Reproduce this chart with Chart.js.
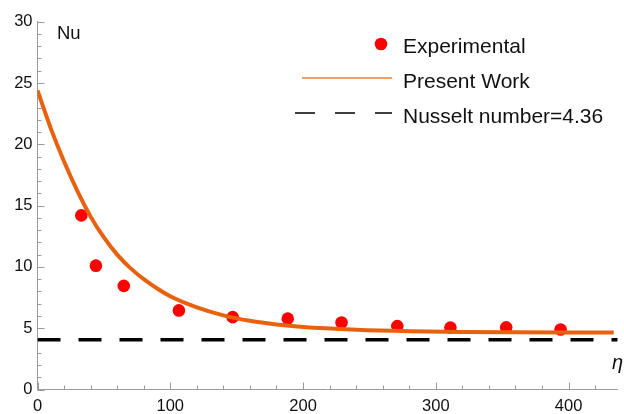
<!DOCTYPE html>
<html>
<head>
<meta charset="utf-8">
<script src="https://cdn.jsdelivr.net/npm/chart.js@4"></script>
<style>
  html, body { margin: 0; padding: 0; background: #fff; }
  canvas { display: block; }
</style>
</head>
<body>
<canvas id="nuChart" width="624" height="414"></canvas>
<script>
/* ================= DATA ================= */
const expX = [33, 44, 65, 106.5, 147, 188.5, 229, 271, 311, 353, 394];
const expY = [14.2, 10.1, 8.45, 6.45, 5.9, 5.78, 5.47, 5.17, 5.05, 5.07, 4.9];

const curveX = [0, 10, 20, 30, 40, 50, 60, 70, 80, 100, 120, 140, 160, 180, 200, 240, 280, 320, 360, 400, 434];
const curveY = [24.4, 21.3, 18.6, 16.2, 14.1, 12.4, 11.0, 9.9, 9.0, 7.6, 6.7, 6.05, 5.6, 5.3, 5.1, 4.88, 4.76, 4.7, 4.67, 4.65, 4.64];

const nusseltX = [0, 437];
const nusseltY = [4.05, 4.05];

const xTicks = [0, 100, 200, 300, 400];
const yTicks = [0, 5, 10, 15, 20, 25, 30];

const legendLabels = ['Experimental', 'Present Work', 'Nusselt number=4.36'];

const toPts = (xs, ys) => xs.map((x, i) => ({ x: x, y: ys[i] }));

const FONT = '"Liberation Sans", Arial, sans-serif';
const ORANGE = '#E8610F';
const AXIS_GRAY = '#9a9a9a';

/* ================= MINOR TICKS + LABELS ================= */
const decorPlugin = {
    id: 'decor',
    beforeDatasetsDraw(chart) {
        const { ctx, chartArea, scales } = chart;
        ctx.save();
        ctx.strokeStyle = AXIS_GRAY;
        ctx.lineWidth = 1;
        for (let v = 0; v <= 30; v++) {
            const py = Math.round(scales.y.getPixelForValue(v)) + 0.5;
            const len = v % 5 === 0 ? 7 : 4;
            ctx.beginPath();
            ctx.moveTo(chartArea.left, py);
            ctx.lineTo(chartArea.left + len, py);
            ctx.stroke();
        }
        for (let v = 0; v <= 436; v += 20) {
            const px = Math.round(scales.x.getPixelForValue(v)) + 0.5;
            const len = v % 100 === 0 ? 7 : 4;
            ctx.beginPath();
            ctx.moveTo(px, chartArea.bottom);
            ctx.lineTo(px, chartArea.bottom - len);
            ctx.stroke();
        }
        ctx.restore();
    },
    afterDraw(chart) {
        const { ctx } = chart;
        const ds = chart.data.datasets;
        ctx.save();

        // axis labels
        ctx.fillStyle = '#111';
        ctx.font = '18.5px ' + FONT;
        ctx.textAlign = 'left';
        ctx.textBaseline = 'alphabetic';
        ctx.fillText('Nu', 57, 38.5);
        ctx.font = 'italic 20px ' + FONT;
        ctx.textAlign = 'right';
        ctx.fillText('\u03B7', 623, 369);

        // legend
        ctx.beginPath();
        ctx.fillStyle = ds[1].backgroundColor;
        ctx.arc(381, 44, 6.3, 0, Math.PI * 2);
        ctx.fill();

        ctx.beginPath();
        ctx.strokeStyle = ds[0].borderColor;
        ctx.globalAlpha = 0.6;
        ctx.lineWidth = 2;
        ctx.moveTo(302, 78);
        ctx.lineTo(392, 78);
        ctx.stroke();
        ctx.globalAlpha = 1;

        ctx.beginPath();
        ctx.strokeStyle = ds[2].borderColor;
        ctx.lineWidth = 1.5;
        ctx.setLineDash([20, 20]);
        ctx.moveTo(295, 113);
        ctx.lineTo(392, 113);
        ctx.stroke();
        ctx.setLineDash([]);

        ctx.fillStyle = '#111';
        ctx.font = '21px ' + FONT;
        ctx.textAlign = 'left';
        ctx.fillText(legendLabels[0], 403, 53.3);
        ctx.fillText(legendLabels[1], 403, 88.3);
        ctx.fillText(legendLabels[2], 403, 123.3);
        ctx.restore();
    }
};

/* ================= CHART ================= */
new Chart(document.getElementById('nuChart'), {
    type: 'scatter',
    data: {
        datasets: [
            {
                type: 'line',
                label: legendLabels[1],
                data: toPts(curveX, curveY),
                borderColor: ORANGE,
                borderWidth: 4,
                pointRadius: 0,
                fill: false,
                cubicInterpolationMode: 'monotone'
            },
            {
                label: legendLabels[0],
                data: toPts(expX, expY),
                backgroundColor: '#FF0000',
                borderColor: '#FF0000',
                pointRadius: 6.3,
                borderWidth: 0
            },
            {
                type: 'line',
                label: legendLabels[2],
                data: toPts(nusseltX, nusseltY),
                borderColor: '#000',
                borderWidth: 3.5,
                borderDash: [23, 18],
                pointRadius: 0,
                fill: false
            }
        ]
    },
    options: {
        responsive: false,
        devicePixelRatio: 1,
        animation: false,
        layout: { padding: { top: 21.7, right: 4, left: 0, bottom: 0 } },
        plugins: {
            legend: { display: false },
            tooltip: { enabled: false }
        },
        scales: {
            x: {
                type: 'linear',
                min: 0,
                max: 437,
                afterFit: s => { s.height = 24.5; },
                afterBuildTicks: s => { s.ticks = xTicks.map(v => ({ value: v })); },
                grid: { display: false, drawTicks: false },
                border: { display: true, color: AXIS_GRAY, width: 1 },
                ticks: {
                    color: '#111',
                    font: { family: FONT, size: 16.5 },
                    padding: 7,
                    maxRotation: 0,
                    autoSkip: false
                }
            },
            y: {
                type: 'linear',
                min: 0,
                max: 30,
                afterFit: s => { s.width = 37.5; },
                afterBuildTicks: s => { s.ticks = yTicks.map(v => ({ value: v })); },
                grid: { display: false, drawTicks: false },
                border: { display: true, color: AXIS_GRAY, width: 1 },
                ticks: {
                    color: '#111',
                    font: { family: FONT, size: 16.5 },
                    padding: 5
                }
            }
        }
    },
    plugins: [decorPlugin]
});
</script>
</body>
</html>
